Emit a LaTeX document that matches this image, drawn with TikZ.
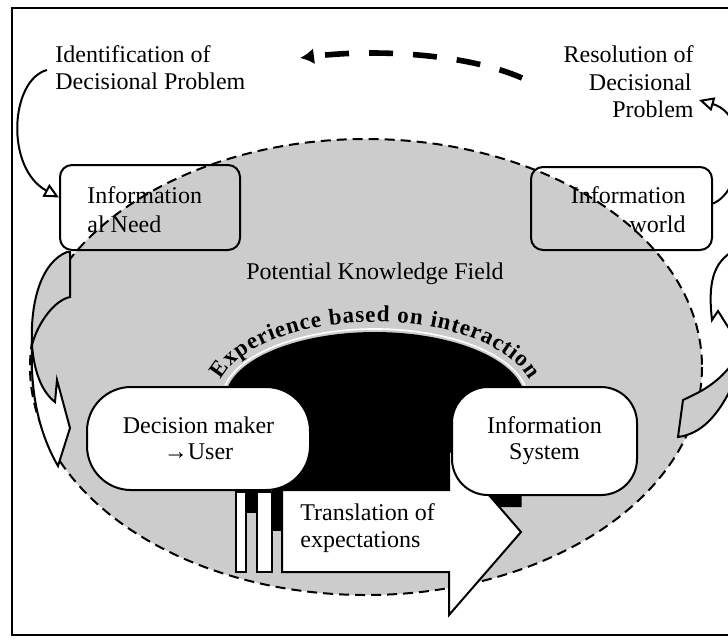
\documentclass[tikz,border=0pt]{standalone}
\usepackage{fontspec}
\setmainfont{Liberation Serif}
\usetikzlibrary{arrows.meta,decorations.text}
\definecolor{kgray}{RGB}{204,204,204}
\begin{document}
\begin{tikzpicture}[x=0.5pt,y=-0.5pt,
  txt/.style={font=\fontsize{12}{13}\selectfont, inner sep=0pt},
  box/.style={draw, line width=1pt, rounded corners=6pt, inner sep=0pt},
  pill/.style={draw, fill=white, line width=1pt, align=center, inner sep=0pt, font=\fontsize{12}{13}\selectfont},
  thinline/.style={line width=1pt},
  opentip/.style={-{Triangle[fill=white, length=7.5pt, width=7pt]}}
  ]
\useasboundingbox (0,0) rectangle (728,639);
\clip (0,0) rectangle (728,639);
\fill[white] (0,0) rectangle (728,639);
% frame
\draw[line width=1pt] (12,8) rectangle (745,635);
% potential knowledge field
\draw[fill=kgray, line width=1pt, dash pattern=on 5pt off 3pt] (366,367) ellipse [x radius=336, y radius=228];
% boxes
\node[box, minimum width=90pt, minimum height=42.5pt] (need) at (150,207.5) {};
\node[box, minimum width=90.5pt, minimum height=41.5pt] (iw) at (621.5,208.5) {};
% texts
\node[txt, anchor=base west] (id1) at (55,62) {Identification of};
\node[txt, anchor=base west] (id2) at (55,89) {Decisional Problem};
\node[txt, anchor=base east] (rs1) at (694,62) {Resolution of};
\node[txt, anchor=base east] (rs2) at (692,90) {Decisional};
\node[txt, anchor=base east] (rs3) at (694,117) {Problem};
\node[txt, anchor=base west] (nd1) at (87,203) {Information};
\node[txt, anchor=base west] (nd2) at (87,232) {al Need};
\node[txt, anchor=base east] (iw1) at (686,203) {Information};
\node[txt, anchor=base east] (iw2) at (686,232) {world};
\node[txt, anchor=base] (pkf) at (375,279) {Potential Knowledge Field};
% left curved arrow
\draw[thinline, fill=kgray] (67,252) .. controls (42,262) and (30,300) .. (32,345)
  .. controls (38,322) and (55,300) .. (70,297) -- (70,252) -- cycle;
\draw[thinline, fill=white] (32,345) .. controls (30,395) and (40,435) .. (58,466)
  -- (70,428) -- (57,380) -- (55,402) .. controls (42,392) and (34,372) .. (32,345) -- cycle;
% right curved arrow
\draw[thinline, fill=white] (735,250) .. controls (712,262) and (708,285) .. (712,320)
  -- (718,311) -- (735,338);
\draw[thinline, fill=kgray] (683,400) -- (678,437) .. controls (700,434) and (718,418) .. (735,380)
  -- (735,360) .. controls (718,384) and (700,392) .. (683,400) -- cycle;
% black dome
\fill[black] (228.3,385.9) arc[start angle=192, end angle=348, x radius=150, y radius=68]
  -- (521.7,507) -- (282,507) -- (282,490) -- (228.3,490) -- cycle;
\draw[white, line width=0.8pt] (225.3,385.2) arc[start angle=192, end angle=348, x radius=153, y radius=71];
\path[decorate, decoration={text along path,
    text={|\fontsize{11.5}{14}\selectfont\bfseries|Experience based on interaction},
    text align={fit to path}}]
  plot[domain=195:345, samples=90] ({375+160*cos(\x)}, {400+78*sin(\x)});
% translation arrow
\fill[black] (246,490) rectangle (257,513);
\fill[black] (272,490) rectangle (282,531);
\draw[thinline, fill=white] (236,492) rectangle (246,572);
\draw[thinline, fill=white] (257,492) rectangle (272,572);
\draw[thinline, fill=white] (282,490) -- (449,490) -- (449,449) -- (521,532) -- (449,615)
  -- (449,572) -- (282,572) -- cycle;
\node[txt, anchor=base west] (tr1) at (300,520) {Translation of};
\node[txt, anchor=base west] (tr2) at (300,547) {expectations};
% main nodes
\node[pill, rounded corners=22pt, minimum width=111.5pt, minimum height=51.5pt] (dm) at (198.5,438.5) {Decision maker\\→User};
\node[pill, rounded corners=18pt, minimum width=92.5pt, minimum height=54pt] (is) at (544.5,441) {Information\\System};
% connectors
\coordinate (idstart) at (47,70);
\draw[thinline, opentip] (idstart) .. controls (10,80) and (5,168) .. ([yshift=5pt]need.west);
\coordinate (rstip) at (699,100);
\draw[thinline, opentip] ([yshift=2.5pt]iw.east) .. controls (745,190) and (750,115) .. (rstip);
\coordinate (ds) at (522,78);
\coordinate (de) at (300,58);
\draw[line width=2.8pt, dash pattern=on 12pt off 10pt, -{Latex[length=7pt, width=8pt]}] (ds) .. controls (470,55) and (380,48) .. (de);
\end{tikzpicture}
\end{document}
